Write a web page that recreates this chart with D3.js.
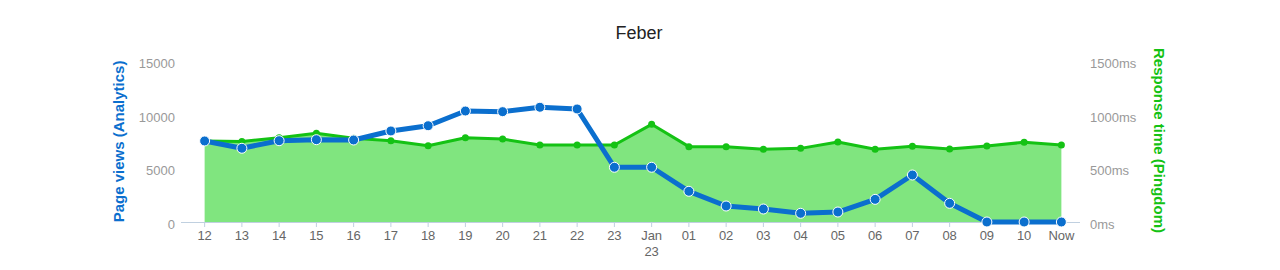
<!DOCTYPE html>
<html lang="en">
<head>
<meta charset="UTF-8">
<title>Feber</title>
<script src="https://cdn.jsdelivr.net/npm/d3@7"></script>
<style>
    body { margin: 0; background: #fff; }
    svg { font-family: "Liberation Sans", Arial, Helvetica, sans-serif; }
    .tick-label { fill: #666; font-size: 13px; }
    .y-label { fill: #999; font-size: 13px; }
</style>
</head>
<body>
<svg id="chart" width="1280" height="270"></svg>
<script>

// categories (days), the "Jan 23" label wraps onto two lines
var days = ["12", "13", "14", "15", "16", "17", "18", "19", "20", "21", "22", "23",
    "Jan 23", "01", "02", "03", "04", "05", "06", "07", "08", "09", "10", "Now"];

// page views from Analytics
var pageViews = [7550, 6870, 7575, 7670, 7640, 8480, 8970, 10340, 10280, 10690, 10530, 5100,
    5100, 2860, 1490, 1210, 810, 930, 2110, 4380, 1740, 0, 0, 0];

// response time in ms from Pingdom
var responseTime = [755, 750, 785, 826, 780, 757, 711, 785, 773, 717, 717, 717,
    910, 702, 702, 677, 686, 745, 677, 705, 680, 708, 743, 717];

var leftTicks = [0, 5000, 10000, 15000];
var rightTicks = [0, 500, 1000, 1500];

var blue = "#0b6fce",
    green = "#14c214",
    fillGreen = "#80e57f";

var svg = d3.select("#chart"),
    margin = {top: 61, right: 200, bottom: 48, left: 186},
    width = 1280 - margin.left - margin.right,
    height = 270 - margin.top - margin.bottom;

var g = svg.append("g").attr("transform", "translate(" + margin.left + "," + margin.top + ")");

var x = d3.scaleBand().domain(days).range([0, width]);
var cx = function(d) { return x(d) + x.bandwidth() / 2; };

var yLeft = d3.scaleLinear().domain([0, 15000]).range([height, 0]);
var yRight = d3.scaleLinear().domain([0, 1500]).range([height, 0]);

// title
svg.append("text")
    .attr("x", 639).attr("y", 39)
    .attr("text-anchor", "middle")
    .style("font-size", "18px")
    .style("fill", "#222")
    .text("Feber");

// green area + line (response time)
var area = d3.area()
    .x(function(d, i) { return cx(days[i]); })
    .y0(height)
    .y1(function(d) { return yRight(d); });

g.append("path")
    .datum(responseTime)
    .attr("d", area)
    .attr("fill", fillGreen);

var greenLine = d3.line()
    .x(function(d, i) { return cx(days[i]); })
    .y(function(d) { return yRight(d); });

g.append("path")
    .datum(responseTime)
    .attr("d", greenLine)
    .attr("fill", "none")
    .attr("stroke", green)
    .attr("stroke-width", 3)
    .attr("stroke-linejoin", "round");

g.selectAll(".gdot")
    .data(responseTime)
    .enter().append("circle")
    .attr("class", "gdot")
    .attr("cx", function(d, i) { return cx(days[i]); })
    .attr("cy", function(d) { return yRight(d); })
    .attr("r", 3.5)
    .attr("fill", green);

// x axis line and ticks
g.append("line")
    .attr("x1", 0).attr("x2", width)
    .attr("y1", height + 0.5).attr("y2", height + 0.5)
    .attr("stroke", "#c0d0e0");

var xt = g.selectAll(".xtick")
    .data(days)
    .enter().append("g")
    .attr("class", "xtick")
    .attr("transform", function(d) { return "translate(" + cx(d) + "," + height + ")"; });

xt.append("line")
    .attr("y1", 0).attr("y2", 5)
    .attr("stroke", "#c0d0e0");

xt.append("text")
    .attr("class", "tick-label")
    .attr("text-anchor", "middle")
    .attr("y", 18)
    .each(function(d) {
        var parts = d.split(" ");
        var t = d3.select(this);
        parts.forEach(function(p, i) {
            t.append("tspan").attr("x", 0).attr("dy", i === 0 ? 0 : 16).text(p);
        });
    });

// left axis labels
g.selectAll(".yl")
    .data(leftTicks)
    .enter().append("text")
    .attr("class", "y-label")
    .attr("x", -11)
    .attr("y", function(d) { return yLeft(d) + 7; })
    .attr("text-anchor", "end")
    .text(function(d) { return d; });

g.append("line")
    .attr("x1", -5).attr("x2", 0)
    .attr("y1", height + 0.5).attr("y2", height + 0.5)
    .attr("stroke", "#c0d0e0");

// right axis labels
g.selectAll(".yr")
    .data(rightTicks)
    .enter().append("text")
    .attr("class", "y-label")
    .attr("x", width + 10)
    .attr("y", function(d) { return yRight(d) + 7; })
    .attr("text-anchor", "start")
    .text(function(d) { return d + "ms"; });

// axis titles
svg.append("text")
    .attr("transform", "translate(124," + (margin.top + height / 2) + ") rotate(-90)")
    .attr("text-anchor", "middle")
    .style("font-size", "15px")
    .style("font-weight", "bold")
    .style("fill", blue)
    .text("Page views (Analytics)");

svg.append("text")
    .attr("transform", "translate(1154," + (margin.top + height / 2 - 1) + ") rotate(90)")
    .attr("text-anchor", "middle")
    .style("font-size", "15px")
    .style("font-weight", "bold")
    .style("fill", green)
    .text("Response time (Pingdom)");

// blue line (page views)
var blueLine = d3.line()
    .x(function(d, i) { return cx(days[i]); })
    .y(function(d) { return yLeft(d); });

g.append("path")
    .datum(pageViews)
    .attr("d", blueLine)
    .attr("fill", "none")
    .attr("stroke", blue)
    .attr("stroke-width", 5)
    .attr("stroke-linejoin", "round");

g.selectAll(".bdot")
    .data(pageViews)
    .enter().append("circle")
    .attr("class", "bdot")
    .attr("cx", function(d, i) { return cx(days[i]); })
    .attr("cy", function(d) { return yLeft(d); })
    .attr("r", 5)
    .attr("fill", blue)
    .attr("stroke", "#fff")
    .attr("stroke-width", 1);

</script>
</body>
</html>
